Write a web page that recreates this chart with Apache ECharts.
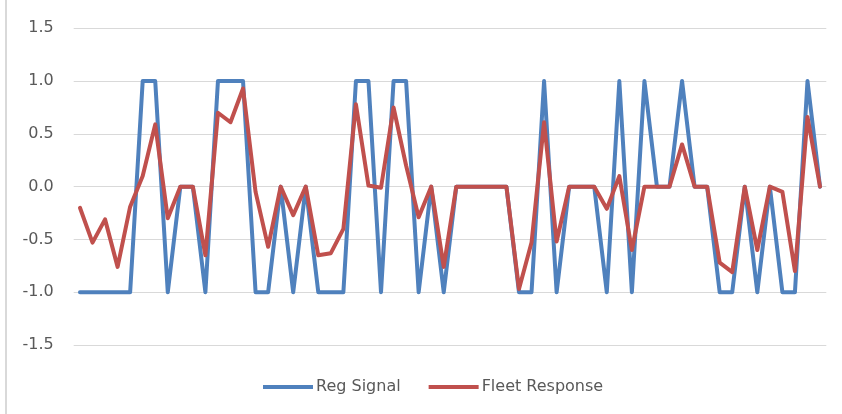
<!DOCTYPE html>
<html>
<head>
<meta charset="utf-8">
<script src="https://cdn.jsdelivr.net/npm/echarts@6/dist/echarts.min.js"></script>
<style>
html,body{margin:0;padding:0;background:#fff;}
#chart{width:842px;height:414px;}
</style>
</head>
<body>
<div id="chart"></div>
<script>
var categories = [];
for (var k = 1; k <= 60; k++) categories.push(String(k));

var regSignal = [
  -1, -1, -1, -1, -1, 1, 1, -1, 0, 0,
  -1, 1, 1, 1, -1, -1, 0, -1, 0, -1,
  -1, -1, 1, 1, -1, 1, 1, -1, 0, -1,
  0, 0, 0, 0, 0, -1, -1, 1, -1, 0,
  0, 0, -1, 1, -1, 1, 0, 0, 1, 0,
  0, -1, -1, 0, -1, 0, -1, -1, 1, 0
];

var fleetResponse = [
  -0.2, -0.53, -0.31, -0.76, -0.19, 0.1, 0.59, -0.3, 0, 0,
  -0.65, 0.7, 0.61, 0.93, -0.05, -0.57, 0, -0.27, 0, -0.65,
  -0.63, -0.4, 0.78, 0.01, -0.01, 0.75, 0.2, -0.29, 0, -0.76,
  0, 0, 0, 0, 0, -0.97, -0.53, 0.61, -0.52, 0,
  0, 0, -0.21, 0.1, -0.6, 0, 0, 0, 0.4, 0,
  0, -0.72, -0.81, 0, -0.6, 0, -0.05, -0.8, 0.66, 0
];

var seriesNames = ['Reg Signal', 'Fleet Response'];

var chart = echarts.init(document.getElementById('chart'), null, {renderer: 'canvas'});
chart.setOption({
  animation: false,
  backgroundColor: '#ffffff',
  color: ['#4f81bd', '#c0504d'],
  graphic: [{
    type: 'line',
    shape: {x1: 6, y1: 0, x2: 6, y2: 414},
    style: {stroke: '#d9d9d9', lineWidth: 2}
  }],
  grid: {left: 73.7, right: 15.7, top: 28.3, bottom: 69},
  legend: {
    data: seriesNames,
    left: 258,
    top: 374,
    icon: 'rect',
    itemWidth: 50,
    itemHeight: 4,
    itemGap: 28,
    textStyle: {fontFamily: 'DejaVu Sans', fontSize: 16, color: '#595959', padding: [0, 0, 0, -2]}
  },
  xAxis: {
    type: 'category',
    data: categories,
    boundaryGap: true,
    axisLine: {show: false},
    axisTick: {show: false},
    axisLabel: {show: false},
    splitLine: {show: false}
  },
  yAxis: {
    type: 'value',
    min: -1.5,
    max: 1.5,
    interval: 0.5,
    axisLine: {show: false},
    axisTick: {show: false},
    axisLabel: {
      margin: 20,
      fontFamily: 'DejaVu Sans',
      fontSize: 16,
      color: '#595959',
      formatter: function (v) { return v.toFixed(1); }
    },
    splitLine: {lineStyle: {color: '#d9d9d9', width: 1}}
  },
  series: [
    {
      name: seriesNames[0],
      type: 'line',
      data: regSignal,
      showSymbol: false,
      symbol: 'none',
      lineStyle: {width: 4, color: '#4f81bd', cap: 'round', join: 'round'}
    },
    {
      name: seriesNames[1],
      type: 'line',
      data: fleetResponse,
      showSymbol: false,
      symbol: 'none',
      lineStyle: {width: 4, color: '#c0504d', cap: 'round', join: 'round'}
    }
  ]
});
</script>
</body>
</html>
